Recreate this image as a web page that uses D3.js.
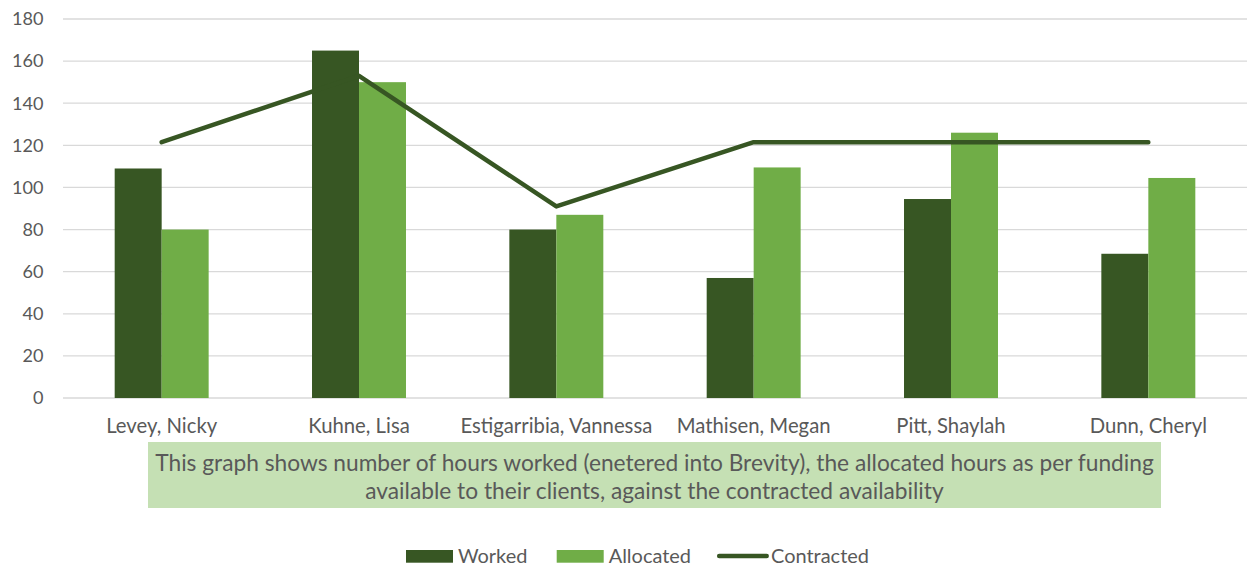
<!DOCTYPE html>
<html>
<head>
<meta charset="utf-8">
<script src="https://cdn.jsdelivr.net/npm/d3@7"></script>
<style>
  html, body { margin: 0; padding: 0; background: #fff; }
  svg { display: block; }
  text { font-family: Lato, "Open Sans", sans-serif; fill: #595959; }
</style>
</head>
<body>
<svg id="chart" width="1249" height="568"></svg>
<script>
const categories = ["Levey, Nicky", "Kuhne, Lisa", "Estigarribia, Vannessa", "Mathisen, Megan", "Pitt, Shaylah", "Dunn, Cheryl"];
const worked = [109, 165, 80, 57, 94.5, 68.5];
const allocated = [80, 150, 87, 109.5, 126, 104.5];
const contracted = [121.5, 153, 91, 121.5, 121.5, 121.5];
const seriesNames = ["Worked", "Allocated", "Contracted"];
const yTicks = [0, 20, 40, 60, 80, 100, 120, 140, 160, 180];
const captionLines = [
  "This graph shows number of hours worked (enetered into Brevity), the allocated hours as per funding",
  "available to their clients, against the contracted availability"
];

const colors = { Worked: "#375623", Allocated: "#70AD47", Contracted: "#375623" };
const FONT = 'Lato, "Open Sans", sans-serif';

const svg = d3.select("#chart");
const plot = { left: 63, right: 1247, top: 19, bottom: 398 };

// fit a font size so that a sample string has a target width
function fitSize(sample, target) {
  const t = svg.append("text").style("font-family", FONT).style("font-size", "20px").text(sample);
  const w = t.node().getComputedTextLength();
  t.remove();
  return 20 * target / w;
}
const tickSize = fitSize("180", 31.5);
const catSize = fitSize("Estigarribia, Vannessa", 192);
const capSize = fitSize(captionLines[0], 999);
const legSize = fitSize("Contracted", 98);

const x0 = d3.scaleBand().domain(categories).range([plot.left, plot.right]).padding(0);
const x1 = d3.scaleBand().domain(["Worked", "Allocated"]).range([0, x0.bandwidth()]).paddingInner(0).paddingOuter(1.1);
const y = d3.scaleLinear().domain([0, 180]).range([plot.bottom, plot.top]);

// gridlines
svg.append("g").selectAll("line").data(yTicks).join("line")
  .attr("x1", plot.left).attr("x2", plot.right)
  .attr("y1", d => y(d)).attr("y2", d => y(d))
  .attr("stroke", "#D9D9D9").attr("stroke-width", 1.3);

// y axis labels
const yAxis = d3.axisLeft(y).tickValues(yTicks).tickSize(0).tickPadding(0);
const yg = svg.append("g").attr("transform", `translate(${43.5},0)`).call(yAxis);
yg.select(".domain").remove();
yg.selectAll("text").style("font-size", tickSize + "px").attr("fill", "#595959").style("font-family", FONT);

// bars
const rows = categories.map((c, i) => ({ cat: c, Worked: worked[i], Allocated: allocated[i] }));
const groups = svg.append("g").selectAll("g").data(rows).join("g")
  .attr("transform", d => `translate(${x0(d.cat)},0)`);
groups.selectAll("rect").data(d => ["Worked", "Allocated"].map(k => ({ key: k, value: d[k] })))
  .join("rect")
  .attr("x", d => x1(d.key))
  .attr("width", x1.bandwidth())
  .attr("y", d => y(d.value))
  .attr("height", d => y(0) - y(d.value))
  .attr("fill", d => colors[d.key]);

// contracted line
const line = d3.line().x((d, i) => x0(categories[i]) + x0.bandwidth() / 2).y(d => y(d));
svg.append("path").datum(contracted)
  .attr("d", line)
  .attr("fill", "none")
  .attr("stroke", colors.Contracted)
  .attr("stroke-width", 4.5)
  .attr("stroke-linecap", "round")
  .attr("stroke-linejoin", "round");

// x axis labels
const xAxis = d3.axisBottom(x0).tickSize(0).tickPadding(0);
const xg = svg.append("g").attr("transform", `translate(0,${426})`).call(xAxis);
xg.select(".domain").remove();
xg.selectAll("text").attr("dy", "0.35em").attr("y", 0).style("font-size", catSize + "px").attr("fill", "#595959").style("font-family", FONT);

// caption box
svg.append("rect").attr("x", 148).attr("y", 442).attr("width", 1013).attr("height", 66).attr("fill", "#C5E0B4");
svg.append("g").selectAll("text").data(captionLines).join("text")
  .attr("x", 654.5).attr("y", (d, i) => 463 + i * 28)
  .attr("dy", "0.35em")
  .attr("text-anchor", "middle")
  .style("font-size", capSize + "px")
  .text(d => d);

// legend
const legend = svg.append("g");
const legItems = [
  { name: seriesNames[0], type: "rect", sx: 406, tx: 458 },
  { name: seriesNames[1], type: "rect", sx: 556.7, tx: 608.7 },
  { name: seriesNames[2], type: "line", sx: 717.7, tx: 771 }
];
legItems.forEach(it => {
  if (it.type === "rect") {
    legend.append("rect").attr("x", it.sx).attr("y", 550).attr("width", 47).attr("height", 12.7).attr("fill", colors[it.name]);
  } else {
    legend.append("line").attr("x1", it.sx + 1.5).attr("x2", it.sx + 49).attr("y1", 556).attr("y2", 556)
      .attr("stroke", colors[it.name]).attr("stroke-width", 4.5).attr("stroke-linecap", "round");
  }
  legend.append("text").attr("x", it.tx).attr("y", 556).attr("dy", "0.35em").style("font-size", legSize + "px").text(it.name);
});
</script>
</body>
</html>
